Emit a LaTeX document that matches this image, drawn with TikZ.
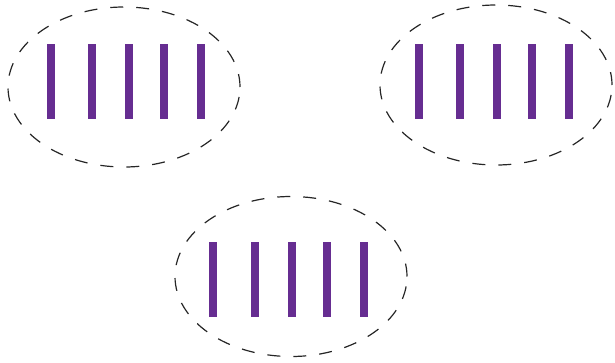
\documentclass[tikz,border=0pt]{standalone}
\usepackage{xcolor}
\usepackage{tikz}
\definecolor{barpurple}{HTML}{662D91}

\begin{document}
\begin{tikzpicture}[x=1pt,y=-1pt,
 group/.style={draw=black!85,line width=1.2pt,dash pattern=on 13pt off 13pt},
 rod/.style={barpurple,line width=8pt}]
\useasboundingbox (0,0) rectangle (615,362);
% upper left
\draw[group] (124,87) ellipse [x radius=116pt,y radius=80pt];
\foreach \x in {51,92,129,164,201}{\draw[rod] (\x,44)--(\x,119);}
% upper right
\draw[group] (496,85) ellipse [x radius=116pt,y radius=80pt];
\foreach \x in {419,460,497,532,569}{\draw[rod] (\x,44)--(\x,119);}
% lower
\draw[group] (291,276.5) ellipse [x radius=116pt,y radius=80pt];
\foreach \x in {213,255,292,327,364}{\draw[rod] (\x,242)--(\x,317);}
\end{tikzpicture}
\end{document}
